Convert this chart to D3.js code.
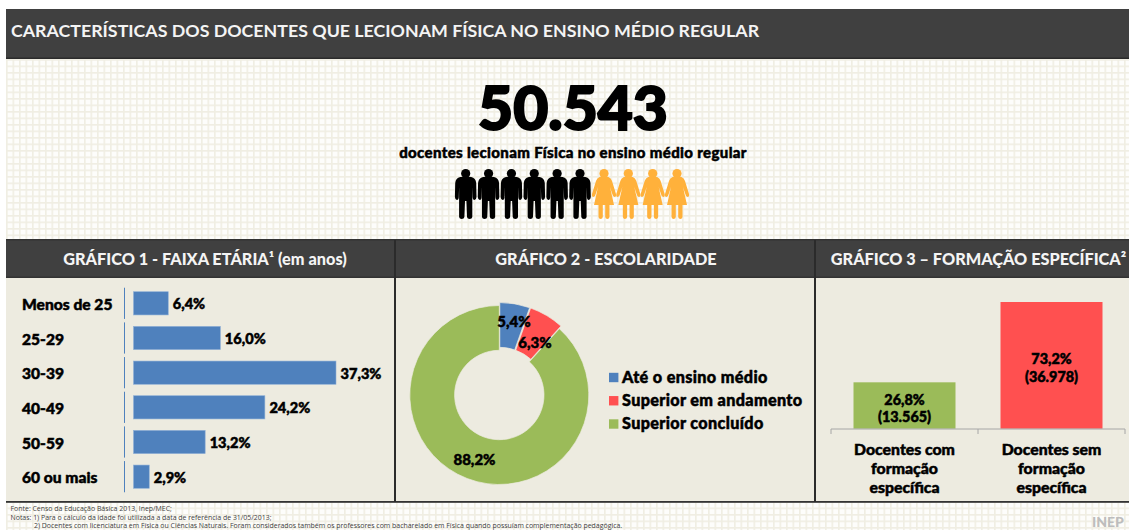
<!DOCTYPE html>
<html><head><meta charset="utf-8">
<script src="https://cdn.jsdelivr.net/npm/d3@7/dist/d3.min.js"></script>
<style>
html,body{margin:0;padding:0;background:#fff;overflow:hidden}
svg{display:block}
text{font-family:Lato,"Open Sans",sans-serif}
.heavy{font-weight:900;fill:#000;stroke:#000;stroke-width:.5px}
</style></head><body>
<svg id="c" width="1129" height="530"></svg>
<script>
const titleText = "CARACTERÍSTICAS DOS DOCENTES QUE LECIONAM FÍSICA NO ENSINO MÉDIO REGULAR";
const totalText = "50.543";
const subtitleText = "docentes lecionam Física no ensino médio regular";
const peopleGroups = ["m","m","m","m","m","m","f","f","f","f"];

const panelTitles = ["GRÁFICO 1 - FAIXA ETÁRIA¹ (em anos)","GRÁFICO 2 - ESCOLARIDADE","GRÁFICO 3 – FORMAÇÃO ESPECÍFICA²"];

const ageCategories = ["Menos de 25","25-29","30-39","40-49","50-59","60 ou mais"];
const ageValues = [6.4,16.0,37.3,24.2,13.2,2.9];

const schoolCategories = ["Até o ensino médio","Superior em andamento","Superior concluído"];
const schoolValues = [5.4,6.3,88.2];
const schoolColors = ["#4F81BD","#FF5050","#9BBB59"];

const formationCategories = [["Docentes com","formação","específica"],["Docentes sem","formação","específica"]];
const formationValues = [26.8,73.2];
const formationCounts = ["13.565","36.978"];
const formationColors = ["#9BBB59","#FF5050"];

const notes = ["Fonte: Censo da Educação Básica 2013, Inep/MEC;",
 "Notas: 1) Para o cálculo da idade foi utilizada a data de referência de 31/05/2013;",
 "2) Docentes com licenciatura em Física ou Ciências Naturais. Foram considerados também os professores com bacharelado em Física quando possuíam complementação pedagógica."];

const pt = v => v.toFixed(1).replace(".",",")+"%";
const svg = d3.select("#c");
const DARK="#404040", BEIGE="#EDEBE0", LINE="#333";

// background grid
const defs = svg.append("defs");
const pat = defs.append("pattern").attr("id","grid").attr("width",6.5).attr("height",6.5)
  .attr("patternUnits","userSpaceOnUse").attr("x",6).attr("y",59);
pat.append("rect").attr("width",6.5).attr("height",6.5).attr("fill","#FDFDFB");
pat.append("path").attr("d","M0 0H6.5M0 0V6.5").attr("stroke","#F0EEE3").attr("stroke-width",3.2);
svg.append("rect").attr("x",6).attr("y",58).attr("width",1123).attr("height",472).attr("fill","url(#grid)");

// title bar
svg.append("rect").attr("x",6).attr("y",9).attr("width",1123).attr("height",50).attr("fill",DARK);
svg.append("rect").attr("x",6).attr("y",57.5).attr("width",1123).attr("height",1.5).attr("fill","#2b2b2b");
svg.append("text").attr("x",11).attr("y",36.5).attr("font-size",17.8).attr("font-weight",700)
  .attr("fill","#F4F4F4").text(titleText);

// headline
svg.append("text").attr("class","heavy").attr("x",573).attr("y",130).attr("text-anchor","middle")
  .attr("font-size",60.5).style("stroke-width","2px").text(totalText);
svg.append("text").attr("class","heavy").attr("x",573).attr("y",158).attr("text-anchor","middle")
  .attr("font-size",15).attr("letter-spacing",.35).text(subtitleText);

// people
const manPath="M-5.5 8Q0 7 5.5 8Q10 9 10.5 14L10.8 28Q10.5 31 8.8 31Q7 31 6.9 28L6.6 18L6.6 48Q6.3 50 4 50Q1.6 50 1.3 48L.7 32H-.7L-1.3 48Q-1.6 50 -4 50Q-6.3 50 -6.6 48L-6.6 18L-6.9 28Q-7 31 -8.8 31Q-10.5 31 -10.8 28L-10.5 14Q-10 9 -5.5 8Z";
const womanPath="M-4.5 8Q0 7 4.5 8Q7 9 8 12L12 25Q12.5 28 10.5 28Q9 28 8.3 25L6 18L10 36H5.5L5.5 48Q5 50 3.5 50Q1.5 50 1.2 48V36H-1.2V48Q-1.5 50 -3.5 50Q-5 50 -5.5 48V36H-10L-6 18L-8.3 25Q-9 28 -10.5 28Q-12.5 28 -12 25L-8 12Q-7 9 -4.5 8Z";
const menX=d3.scaleLinear().domain([0,5]).range([465.7,580]);
const womenX=d3.scaleLinear().domain([6,9]).range([604,677]);
const pg=svg.append("g").selectAll("g").data(peopleGroups).join("g")
  .attr("transform",(d,i)=>`translate(${d==="m"?menX(i):womenX(i)},169)`)
  .attr("fill",d=>d==="m"?"#000":"#FFB13B");
pg.append("circle").attr("cy",4.6).attr("r",4.6);
pg.append("path").attr("d",d=>d==="m"?manPath:womanPath);

// panels
svg.append("rect").attr("x",6).attr("y",240).attr("width",1123).attr("height",262).attr("fill",BEIGE);
svg.append("rect").attr("x",6).attr("y",240).attr("width",1123).attr("height",37.5).attr("fill",DARK);
svg.append("rect").attr("x",6).attr("y",239).attr("width",1123).attr("height",1.5).attr("fill",LINE);
svg.append("rect").attr("x",6).attr("y",276.5).attr("width",1123).attr("height",1.5).attr("fill",LINE);
svg.append("rect").attr("x",6).attr("y",501).attr("width",1123).attr("height",1.8).attr("fill",LINE);
svg.selectAll(".div").data([395,815]).join("rect").attr("class","div").attr("x",d=>d-1).attr("y",240).attr("width",2).attr("height",262).attr("fill","#2b2b2b");
svg.selectAll(".ph").data(panelTitles).join("text").attr("class","ph")
  .attr("x",(d,i)=>[205,606,978.5][i]).attr("y",264.5).attr("text-anchor","middle")
  .attr("font-size",16.3).attr("font-weight",900).attr("fill","#F4F4F4").text(d=>d);

// chart 1
const x1=d3.scaleLinear().domain([0,37.3]).range([133.5,336]);
const y1=d3.scaleBand().domain(ageCategories).range([286,494]).paddingInner(.33).paddingOuter(.165);
const seg=d3.scaleBand().domain(ageCategories).range([286,494]).paddingInner(.1).paddingOuter(.05);
const g1=svg.append("g");
g1.selectAll(".seg").data(ageCategories).join("line").attr("class","seg")
  .attr("x1",124.5).attr("x2",124.5).attr("y1",d=>seg(d)).attr("y2",d=>seg(d)+seg.bandwidth())
  .attr("stroke","#4F81BD").attr("stroke-width",1);
g1.selectAll(".bar").data(ageValues).join("rect").attr("class","bar")
  .attr("x",x1(0)).attr("y",(d,i)=>y1(ageCategories[i])).attr("height",y1.bandwidth())
  .attr("width",d=>x1(d)-x1(0)).attr("fill","#4F81BD").attr("stroke","#8FB0D6").attr("stroke-width",.6);
g1.selectAll(".cat").data(ageCategories).join("text").attr("class","cat heavy")
  .attr("x",22).attr("y",d=>y1(d)+y1.bandwidth()/2+6.5).attr("font-size",15.6).text(d=>d);
g1.selectAll(".val").data(ageValues).join("text").attr("class","val heavy")
  .attr("x",d=>x1(d)+4.5).attr("y",(d,i)=>y1(ageCategories[i])+y1.bandwidth()/2+6)
  .attr("font-size",14.6).text(pt);

// chart 2
const cx=499.3, cy=395, R=89.5, r=44.7;
const pie=d3.pie().sort(null)(schoolValues);
const arc=d3.arc().innerRadius(r).outerRadius(R);
const explode=[3,3,0];
const labelRadius=[75,62,69];
const labelDx=[2,4,0];
const g2=svg.append("g").attr("transform",`translate(${cx},${cy})`);
const off=(d,k)=>{const a=(d.startAngle+d.endAngle)/2;return [Math.sin(a)*k,-Math.cos(a)*k];};
g2.selectAll("path").data(pie).join("path").attr("d",arc)
  .attr("transform",(d,i)=>`translate(${off(d,explode[i])})`)
  .attr("fill",(d,i)=>schoolColors[i]).attr("stroke",BEIGE).attr("stroke-width",.7);
g2.selectAll("text").data(pie).join("text").attr("class","heavy")
  .attr("x",(d,i)=>off(d,labelRadius[i])[0]+labelDx[i]).attr("y",(d,i)=>off(d,labelRadius[i])[1]+6)
  .attr("text-anchor","middle").attr("font-size",15).text(d=>pt(d.data));
const yl=d3.scalePoint().domain(schoolCategories).range([377.5,424]);
const lg=svg.append("g").selectAll("g").data(schoolCategories).join("g");
lg.append("rect").attr("x",609).attr("y",d=>yl(d)-4.7).attr("width",9.4).attr("height",9.4)
  .attr("fill",(d,i)=>schoolColors[i]);
lg.append("text").attr("class","heavy").attr("x",622).attr("y",d=>yl(d)+5.4).attr("font-size",16.2)
  .attr("letter-spacing",.35).text(d=>d);

// chart 3
const y3=d3.scaleLinear().domain([0,73.2]).range([428.7,302]);
const xb=[0,1];
const x3=d3.scaleBand().domain(xb).range([831,1125]);
const bw=102;
const g3=svg.append("g");
g3.selectAll(".b3").data(formationValues).join("rect").attr("class","b3")
  .attr("x",(d,i)=>x3(i)+x3.bandwidth()/2-bw/2).attr("width",bw)
  .attr("y",d=>y3(d)).attr("height",d=>y3(0)-y3(d)).attr("fill",(d,i)=>formationColors[i]);
const axisPath=d3.path();
axisPath.moveTo(831,434);axisPath.lineTo(831,429);axisPath.lineTo(1125,429);axisPath.lineTo(1125,434);
axisPath.moveTo(978,429);axisPath.lineTo(978,434);
g3.append("path").attr("d",axisPath.toString()).attr("fill","none").attr("stroke","#A6A6A6").attr("stroke-width",1);
const bx=i=>x3(i)+x3.bandwidth()/2;
formationValues.forEach((v,i)=>{
  const ctr=(y3(v)+y3(0))/2+2.5;
  g3.append("text").attr("class","heavy").attr("x",bx(i)).attr("y",ctr-3.5).attr("text-anchor","middle").attr("font-size",14.4).text(pt(v));
  g3.append("text").attr("class","heavy").attr("x",bx(i)).attr("y",ctr+14).attr("text-anchor","middle").attr("font-size",14.4).text("("+formationCounts[i]+")");
  formationCategories[i].forEach((t,j)=>{
    g3.append("text").attr("class","heavy").attr("x",bx(i)).attr("y",455+j*19).attr("text-anchor","middle").attr("font-size",15.8).text(t);
  });
});

// notes
svg.selectAll(".note").data(notes).join("text").attr("class","note")
  .attr("x",(d,i)=>i===2?34:10.5).attr("y",(d,i)=>[510.5,519.5,528][i])
  .attr("font-size",6.95).attr("fill","#404040").style("font-family","'Open Sans',sans-serif").text(d=>d);
svg.append("text").attr("x",1092).attr("y",526.5).attr("font-size",14).attr("font-weight",900)
  .attr("fill","#BDBDBD").text("INEP");
</script>
</body></html>
